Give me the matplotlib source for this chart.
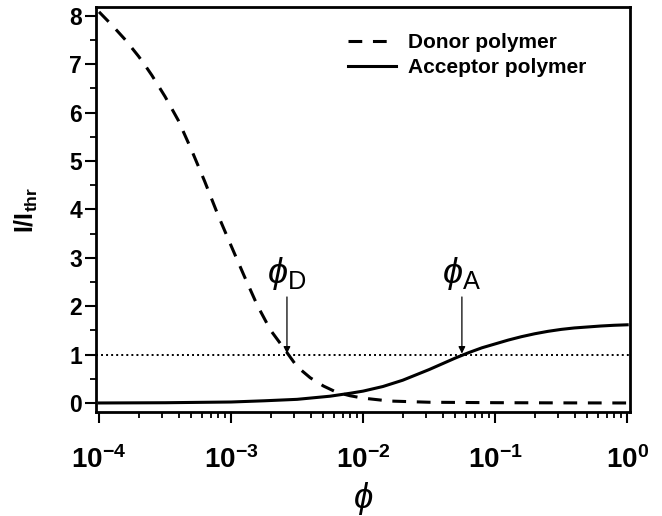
import numpy as np
import matplotlib
matplotlib.use("Agg")
import matplotlib.pyplot as plt
from matplotlib.ticker import LogLocator, NullFormatter, FixedLocator

plt.rcParams['font.family'] = ['Liberation Sans', 'DejaVu Sans']
plt.rcParams['mathtext.fontset'] = 'custom'
plt.rcParams['mathtext.rm'] = 'Liberation Sans'
plt.rcParams['mathtext.it'] = 'Liberation Sans:italic'
plt.rcParams['mathtext.bf'] = 'Liberation Sans:bold'

# log10(phi) sample positions and the two curves
donor_exp = [-4.0, -3.9, -3.8, -3.7, -3.65, -3.6, -3.5, -3.4, -3.3, -3.2, -3.1,
             -3.0, -2.9, -2.8, -2.7, -2.6, -2.5, -2.4, -2.3, -2.2, -2.1, -2.0,
             -1.8, -1.5, -1.0, -0.5, 0.0]
donor_val = [8.08, 7.80, 7.50, 7.16, 6.97, 6.77, 6.33, 5.84, 5.23, 4.58, 3.89,
             3.25, 2.62, 2.01, 1.50, 1.13, 0.75, 0.52, 0.35, 0.22, 0.15, 0.10,
             0.04, 0.015, 0.006, 0.002, 0.0]

acceptor_exp = [-4.0, -3.5, -3.0, -2.75, -2.5, -2.25, -2.1, -2.0, -1.85, -1.7,
                -1.6, -1.5, -1.4, -1.3, -1.2, -1.1, -1.0, -0.9, -0.8, -0.7,
                -0.6, -0.5, -0.4, -0.3, -0.2, -0.1, 0.0]
acceptor_val = [0.0, 0.005, 0.02, 0.045, 0.075, 0.14, 0.20, 0.245, 0.34, 0.47,
                0.58, 0.69, 0.81, 0.93, 1.04, 1.14, 1.22, 1.30, 1.37, 1.43,
                1.48, 1.52, 1.55, 1.57, 1.59, 1.605, 1.615]

threshold = 1.0
phi_D = 2.65e-3
phi_A = 5.6e-2

donor_phi = [10.0 ** e for e in donor_exp]
acceptor_phi = [10.0 ** e for e in acceptor_exp]

fig = plt.figure(figsize=(6.62, 5.16), dpi=100)
ax = fig.add_axes([0.145, 0.2016, 0.807, 0.7848])

ax.plot(donor_phi, donor_val, color='black', lw=2.2, ls=(0, (4.5, 3.5)),
        label='Donor polymer')
ax.plot(acceptor_phi, acceptor_val, color='black', lw=2.2, ls='-',
        label='Acceptor polymer')
ax.axhline(threshold, color='black', lw=1.4, ls=(0, (1, 1.6)))

ax.set_xscale('log')
ax.set_xlim(10 ** -4.023, 10 ** 0.023)
ax.set_ylim(-0.186, 8.18)

ax.xaxis.set_major_locator(FixedLocator([1e-4, 1e-3, 1e-2, 1e-1, 1e0]))
ax.xaxis.set_minor_locator(LogLocator(base=10, subs=np.arange(2, 10), numticks=20))
ax.xaxis.set_minor_formatter(NullFormatter())
ax.set_xticklabels([r'$\mathbf{10^{-4}}$', r'$\mathbf{10^{-3}}$', r'$\mathbf{10^{-2}}$',
                    r'$\mathbf{10^{-1}}$', r'$\mathbf{10^{0}}$'], fontsize=20)
ax.set_yticks(range(0, 9))
ax.set_yticks(np.arange(0.5, 8, 1.0), minor=True)
ax.set_yticklabels([str(i) for i in range(0, 9)], fontsize=16.5, fontweight='bold')

ax.tick_params(axis='both', which='major', direction='out', length=8, width=1.5)
ax.tick_params(axis='both', which='minor', direction='out', length=4.5, width=1.3)
ax.tick_params(axis='x', which='major', pad=17)
ax.tick_params(axis='y', which='major', pad=2)
for s in ax.spines.values():
    s.set_linewidth(2.0)

ax.set_ylabel(r'$\mathbf{I/I_{thr}}$', fontsize=18)
ax.yaxis.set_label_coords(-0.105, 0.5)
ax.set_xlabel(r'$\phi$', fontsize=25, labelpad=4)

# threshold crossing markers
for phi_c, name in ((phi_D, 'D'), (phi_A, 'A')):
    ax.annotate('', xy=(phi_c, threshold + 0.02), xytext=(phi_c, 2.19),
                arrowprops=dict(arrowstyle='-|>', color='black', lw=0.9,
                                mutation_scale=10, shrinkA=0, shrinkB=0))
    ax.text(phi_c, 2.48, r'$\phi_{\rm %s}$' % name, fontsize=26,
            ha='center', va='baseline')

leg = ax.legend(loc='upper left', bbox_to_anchor=(348 / 662, 1 - 33 / 516),
                bbox_transform=fig.transFigure, frameon=False, borderpad=0,
                borderaxespad=0, handlelength=2.3, handletextpad=0.6,
                labelspacing=0.3,
                prop={'family': 'Liberation Sans', 'weight': 'bold', 'size': 15})

fig.savefig('out.png', dpi=100)
